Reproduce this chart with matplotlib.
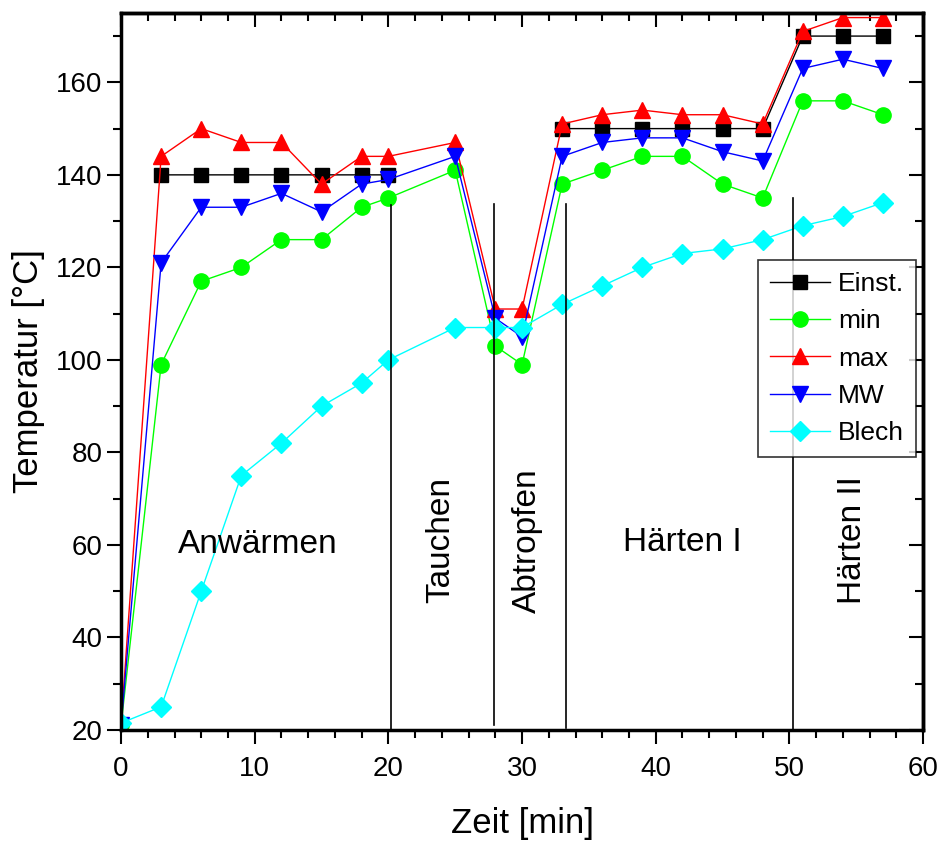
import numpy as np
import matplotlib
matplotlib.use("Agg")
import matplotlib.pyplot as plt

# Zeitpunkte [min]
zeit = [0, 3, 6, 9, 12, 15, 18, 20, 25, 28, 30, 33, 36, 39, 42, 45, 48, 51, 54, 57]

nan = np.nan
einst = [nan, 140, 140, 140, 140, 140, 140, 140, nan, nan, nan, 150, 150, 150, 150, 150, 150, 170, 170, 170]
t_min = [21, 99, 117, 120, 126, 126, 133, 135, 141, 103, 99, 138, 141, 144, 144, 138, 135, 156, 156, 153]
t_max = [21, 144, 150, 147, 147, 138, 144, 144, 147, 111, 111, 151, 153, 154, 153, 153, 151, 171, 174, 174]
mw = [21, 121, 133, 133, 136, 132, 138, 139, 144, 109, 105, 144, 147, 148, 148, 145, 143, 163, 165, 163]
blech = [21.5, 25, 50, 75, 82, 90, 95, 100, 107, 107, 107, 112, 116, 120, 123, 124, 126, 129, 131, 134]

# Phasengrenzen
grenzen_x = [20.2, 27.9, 33.3, 50.3]
grenzen_unten = [20, 21, 20.5, 20]
grenzen_oben = [133.5, 133.8, 133.8, 135]

phasen = ["Anwärmen", "Tauchen", "Abtropfen", "Härten I", "Härten II"]
phasen_x = [10.2, 23.9, 30.4, 42.0, 54.7]
phasen_y = [60, 61, 61, 60.5, 61]
phasen_rot = [0, 90, 90, 0, 90]

plt.rcParams['font.family'] = ['Liberation Sans', 'DejaVu Sans']

fig = plt.figure(figsize=(9.42, 8.41), dpi=100)
ax = fig.add_axes([0.1285, 0.132, 0.8514, 0.8526])

ax.plot(zeit, einst, color="black", lw=1, marker="s", ms=10, label="Einst.")
ax.plot(zeit, t_min, color="#00ff00", lw=1, marker="o", ms=11, label="min")
ax.plot(zeit, t_max, color="#ff0000", lw=1, marker="^", ms=12, label="max")
ax.plot(zeit, mw, color="#0000ff", lw=1, marker="v", ms=12, label="MW")
ax.plot(zeit, blech, color="#00ffff", lw=1, marker="D", ms=10, label="Blech")

for gx, gu, go in zip(grenzen_x, grenzen_unten, grenzen_oben):
    ax.plot([gx, gx], [gu, go], color="black", lw=1.2)

for name, px, py, rot in zip(phasen, phasen_x, phasen_y, phasen_rot):
    ax.text(px, py, name, fontsize=24, rotation=rot, ha="center", va="center")

ax.set_xlim(0, 60)
ax.set_ylim(20, 175)
ax.set_xticks(np.arange(0, 61, 10))
ax.set_xticks(np.arange(0, 61, 2), minor=True)
ax.set_yticks(np.arange(20, 161, 20))
ax.set_yticks(np.arange(20, 171, 10), minor=True)

ax.tick_params(axis="both", which="major", labelsize=20, length=10, width=1.5)
ax.tick_params(axis="both", which="minor", length=6, width=1.5)
ax.tick_params(axis="x", which="both", direction="out", top=False)
ax.tick_params(axis="x", which="major", pad=9)
ax.tick_params(axis="y", which="both", direction="out", right=False)

# gespiegelte Achse oben/rechts mit Ticks nach innen
ax2 = ax.secondary_xaxis("top")
ax2.set_xticks(np.arange(0, 61, 10))
ax2.set_xticks(np.arange(0, 61, 2), minor=True)
ax2.tick_params(which="major", direction="in", length=10, width=1.5, labeltop=False)
ax2.tick_params(which="minor", direction="in", length=6, width=1.5)
ax2.set_xticklabels([])
ay2 = ax.secondary_yaxis("right")
ay2.set_yticks(np.arange(20, 161, 20))
ay2.set_yticks(np.arange(20, 171, 10), minor=True)
ay2.tick_params(which="major", direction="in", length=10, width=1.5)
ay2.tick_params(which="minor", direction="in", length=6, width=1.5)
ay2.set_yticklabels([])

for s in ax.spines.values():
    s.set_linewidth(2.5)
ax2.spines["top"].set_linewidth(2.5)
ay2.spines["right"].set_linewidth(2.5)

ax.set_xlabel("Zeit [min]", fontsize=25, labelpad=18)
ax.set_ylabel("Temperatur [°C]", fontsize=25, labelpad=8)

leg = ax.legend(loc="upper left", bbox_to_anchor=(0.794, 0.655), fontsize=19,
                frameon=True, fancybox=False, edgecolor="black", borderpad=0.45,
                handlelength=2.3, handletextpad=0.3, labelspacing=0.5, borderaxespad=0)
leg.get_frame().set_linewidth(1.2)

fig.savefig("out.png", dpi=100)
